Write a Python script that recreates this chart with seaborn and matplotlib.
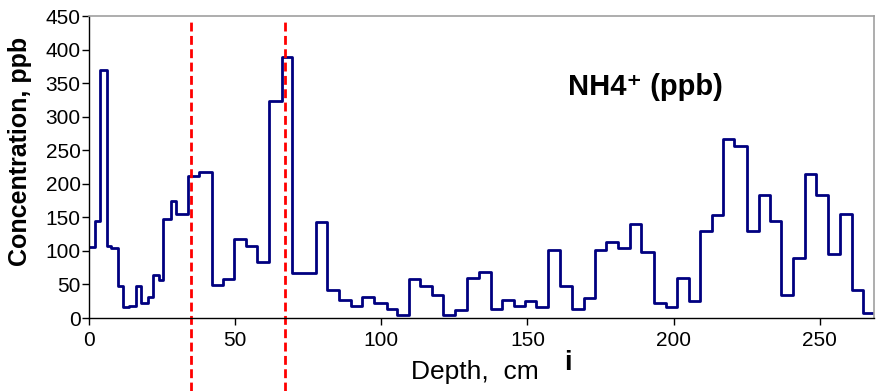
import matplotlib
matplotlib.use("Agg")
import matplotlib.pyplot as plt
import seaborn as sns
import pandas as pd

# depth at the top of each sample (cm) and NH4+ concentration (ppb)
depth = [0, 2.05, 3.76, 6.0, 7.5, 10.0, 11.7, 13.8, 16.0, 17.7, 20.1, 21.8, 23.9,
         25.4, 27.9, 29.7, 34.0, 37.7, 42.2, 45.7, 49.6, 53.6, 57.6, 61.6, 65.9,
         69.5, 77.6, 81.5, 85.5, 89.5, 93.5, 97.5, 101.8, 105.4, 109.4, 113.2,
         117.2, 121.2, 125.2, 129.4, 133.4, 137.4, 141.3, 145.3, 149.3, 153.1,
         157.1, 161.2, 165.3, 169.3, 173.1, 177.0, 181.0, 185.0, 189.0, 193.3,
         197.3, 201.2, 205.2, 209.2, 213.0, 216.9, 220.7, 225.1, 229.1, 232.9,
         236.9, 240.9, 244.9, 248.6, 252.8, 257.1, 261.0, 265.0]
nh4 = [106, 144, 370, 108, 104, 48, 16, 18, 48, 22, 31, 64, 56,
       148, 174, 155, 212, 218, 49, 58, 117, 108, 84, 323, 389,
       67, 143, 42, 27, 18, 32, 23, 14, 4, 58, 48,
       34, 4, 12, 60, 68, 14, 27, 18, 25, 17,
       101, 48, 13, 30, 102, 113, 105, 140, 98, 22,
       17, 60, 26, 129, 153, 266, 257, 130, 184, 145,
       34, 90, 214, 183, 96, 155, 41, 8]
depth_end = 268.6
markers = [35, 67]

df = pd.DataFrame({"Depth": depth + [depth_end], "NH4": nh4 + [nh4[-1]]})

sns.set_style("ticks")
plt.rcParams["font.family"] = ["Liberation Sans", "DejaVu Sans"]
plt.rcParams["text.color"] = "black"
plt.rcParams["axes.labelcolor"] = "black"
plt.rcParams["xtick.color"] = "black"
plt.rcParams["ytick.color"] = "black"

fig = plt.figure(figsize=(8.79, 3.91), dpi=100)
ax = fig.add_axes([89/879, 1-318/391, (874-89)/879, (318-16)/391])

sns.lineplot(data=df, x="Depth", y="NH4", drawstyle="steps-post",
             color="#000080", lw=2.0, ax=ax)

for m in markers:
    ax.axvline(m, ymin=-0.242, ymax=0.98, color="red", lw=2.0,
               dashes=(3.2, 1.6), clip_on=False)

ax.set_xlim(0, depth_end)
ax.set_ylim(0, 450)
ax.set_xticks([0, 50, 100, 150, 200, 250])
ax.set_yticks(range(0, 451, 50))
ax.tick_params(axis="both", labelsize=15, direction="out", length=5, width=1,
               color="black", labelcolor="black")
ax.tick_params(axis="y", pad=1)
ax.tick_params(axis="x", pad=4)

for s in ["left", "bottom"]:
    ax.spines[s].set_color("black")
    ax.spines[s].set_linewidth(1)
for s in ["top", "right"]:
    ax.spines[s].set_visible(True)
    ax.spines[s].set_color("#a0a0a0")
    ax.spines[s].set_linewidth(1.2)

ax.set_xlabel("Depth,  cm", fontsize=19)
ax.xaxis.set_label_coords(0.492, -0.14)
ax.set_ylabel("Concentration, ppb", fontsize=18, fontweight="bold")
ax.yaxis.set_label_coords(-0.072, 0.55)

ax.text(164, 332, "NH4\u207a (ppb)", fontsize=21, fontweight="bold",
        ha="left", va="baseline")
fig.text(568/879, 1-370/391, "i", fontsize=20, fontweight="bold",
         ha="center", va="baseline")

fig.savefig("out.png", dpi=100)
